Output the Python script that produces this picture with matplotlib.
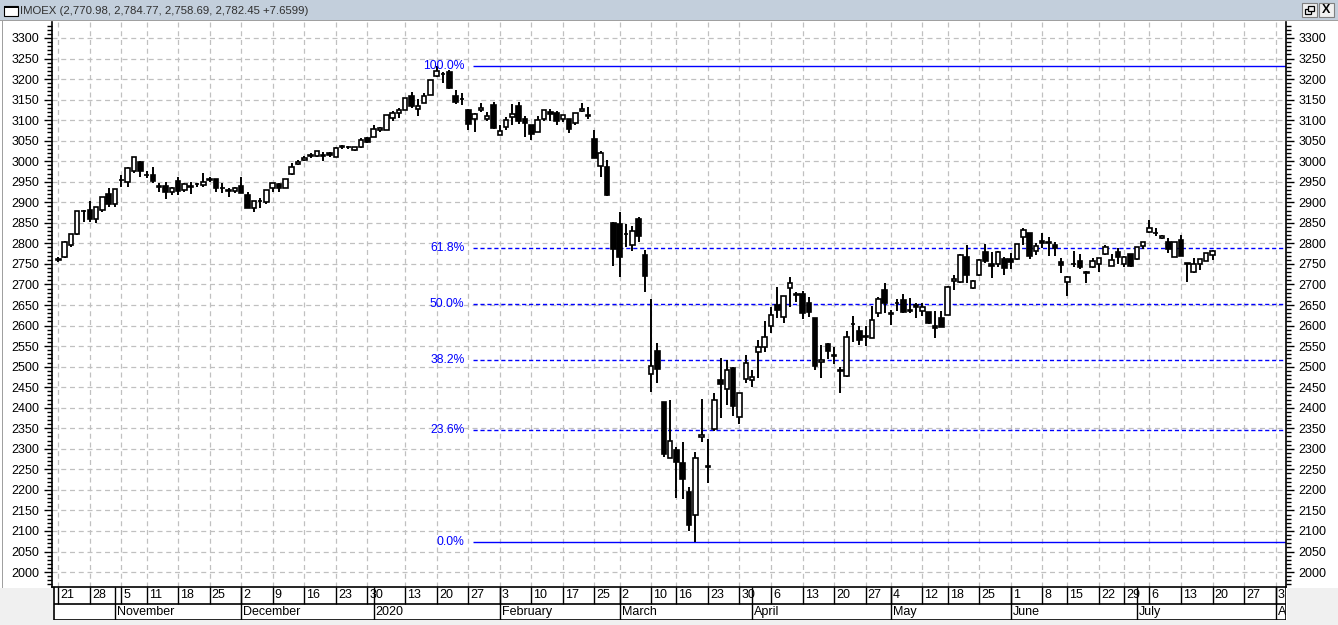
import matplotlib
matplotlib.use('Agg')
import matplotlib.pyplot as plt
from matplotlib.patches import Rectangle
from matplotlib.ticker import MultipleLocator
import pandas as pd

# MOEX trading calendar, exchange holidays removed
holidays = ['2019-11-04', '2019-12-31', '2020-01-01', '2020-01-02', '2020-01-07',
            '2020-02-24', '2020-03-09', '2020-05-01', '2020-05-11', '2020-06-12',
            '2020-06-24', '2020-07-01']
days = pd.bdate_range('2019-10-21', '2020-08-07')
days = days[~days.isin(pd.to_datetime(holidays))]

# daily candles, Oct 21 2019 .. Jul 20 2020
opens = [2760, 2766, 2796, 2822, 2879, 2881, 2859, 2881, 2920, 2897,
         2954, 2950, 2975, 2999, 2966, 2966, 2938, 2940, 2926, 2953,
         2930, 2938, 2944, 2942, 2955, 2956, 2934, 2929, 2927, 2940,
         2919, 2887, 2904, 2901, 2934, 2945, 2934, 2968, 2993, 3002,
         3013, 3013, 3013, 3019, 3011, 3035, 3034, 3027, 3034, 3056,
         3060, 3075, 3076, 3105, 3118, 3125, 3159, 3126, 3141, 3161,
         3208, 3212, 3218, 3159, 3151, 3125, 3103, 3125, 3104, 3138,
         3063, 3083, 3107, 3134, 3104, 3088, 3072, 3104, 3119, 3117,
         3103, 3104, 3092, 3122, 3111, 3053, 2989, 2985, 2849, 2846,
         2822, 2797, 2859, 2772, 2481, 2538, 2414, 2278, 2297, 2265,
         2195, 2140, 2328, 2256, 2349, 2467, 2445, 2496, 2378, 2469,
         2467, 2535, 2547, 2599, 2650, 2620, 2691, 2674, 2677, 2654,
         2618, 2512, 2555, 2528, 2490, 2476, 2603, 2587, 2573, 2569,
         2630, 2686, 2630, 2655, 2662, 2637, 2650, 2636, 2632, 2599,
         2618, 2626, 2708, 2707, 2768, 2692, 2723, 2778, 2750, 2750,
         2761, 2761, 2761, 2815, 2825, 2782, 2807, 2804, 2796, 2754,
         2705, 2749, 2758, 2731, 2743, 2749, 2774, 2746, 2780, 2749,
         2774, 2761, 2794, 2827, 2826, 2812, 2804, 2768, 2808, 2752,
         2731, 2750, 2758, 2770.98]
highs = [2768, 2805, 2823, 2880, 2882, 2902, 2888, 2913, 2936, 2933,
         2966, 2985, 3010, 3001, 2975, 2985, 2946, 2950, 2937, 2961,
         2946, 2950, 2948, 2972, 2962, 2957, 2946, 2934, 2937, 2962,
         2926, 2904, 2910, 2931, 2947, 2946, 2957, 2996, 3003, 3013,
         3021, 3026, 3023, 3023, 3034, 3040, 3038, 3035, 3056, 3058,
         3088, 3084, 3112, 3122, 3129, 3154, 3169, 3151, 3165, 3198,
         3232, 3216, 3222, 3173, 3167, 3126, 3117, 3141, 3121, 3145,
         3088, 3107, 3139, 3145, 3109, 3089, 3109, 3125, 3126, 3123,
         3112, 3104, 3117, 3141, 3131, 3076, 3026, 3003, 2852, 2876,
         2847, 2842, 2865, 2784, 2665, 2557, 2415, 2420, 2304, 2317,
         2207, 2291, 2421, 2324, 2437, 2521, 2515, 2500, 2436, 2528,
         2493, 2565, 2612, 2644, 2693, 2673, 2717, 2682, 2685, 2669,
         2619, 2553, 2558, 2547, 2500, 2587, 2623, 2599, 2599, 2648,
         2670, 2703, 2639, 2664, 2677, 2666, 2654, 2654, 2633, 2636,
         2636, 2696, 2723, 2774, 2796, 2710, 2761, 2799, 2780, 2782,
         2766, 2776, 2799, 2837, 2826, 2802, 2826, 2815, 2804, 2764,
         2720, 2781, 2773, 2733, 2764, 2765, 2796, 2774, 2788, 2769,
         2775, 2791, 2804, 2857, 2837, 2820, 2812, 2803, 2820, 2753,
         2764, 2762, 2777, 2784.77]
lows = [2755, 2765, 2792, 2821, 2853, 2853, 2849, 2877, 2888, 2889,
        2938, 2938, 2971, 2962, 2958, 2948, 2926, 2907, 2918, 2918,
        2926, 2920, 2938, 2938, 2950, 2926, 2922, 2914, 2922, 2922,
        2885, 2877, 2885, 2897, 2926, 2926, 2934, 2966, 2991, 3000,
        3009, 3010, 3001, 3011, 3010, 3030, 3030, 3026, 3033, 3045,
        3058, 3072, 3076, 3099, 3105, 3124, 3129, 3110, 3141, 3161,
        3206, 3190, 3177, 3139, 3137, 3076, 3072, 3121, 3099, 3079,
        3063, 3076, 3088, 3091, 3060, 3052, 3072, 3099, 3099, 3087,
        3096, 3068, 3088, 3121, 3102, 3007, 2961, 2915, 2746, 2717,
        2792, 2782, 2804, 2682, 2439, 2461, 2281, 2278, 2181, 2177,
        2101, 2073, 2317, 2216, 2343, 2376, 2407, 2381, 2360, 2461,
        2451, 2473, 2536, 2581, 2618, 2607, 2646, 2658, 2615, 2622,
        2492, 2472, 2518, 2506, 2435, 2474, 2561, 2553, 2550, 2569,
        2620, 2631, 2601, 2636, 2630, 2631, 2618, 2623, 2605, 2569,
        2596, 2625, 2687, 2704, 2704, 2690, 2721, 2752, 2715, 2742,
        2723, 2737, 2760, 2796, 2761, 2772, 2788, 2769, 2769, 2729,
        2672, 2743, 2737, 2704, 2741, 2730, 2772, 2745, 2751, 2742,
        2742, 2760, 2786, 2826, 2818, 2810, 2777, 2767, 2769, 2707,
        2727, 2735, 2757, 2758.69]
closes = [2762, 2803, 2822, 2879, 2878, 2859, 2888, 2912, 2897, 2932,
          2955, 2983, 3010, 2977, 2967, 2953, 2939, 2926, 2936, 2928,
          2945, 2939, 2945, 2949, 2956, 2934, 2935, 2928, 2936, 2923,
          2887, 2903, 2903, 2930, 2946, 2936, 2956, 2985, 2999, 3009,
          3016, 3026, 3014, 3015, 3033, 3036, 3035, 3034, 3052, 3048,
          3078, 3080, 3112, 3118, 3125, 3153, 3134, 3134, 3159, 3198,
          3220, 3213, 3178, 3145, 3152, 3091, 3115, 3129, 3110, 3080,
          3074, 3100, 3115, 3099, 3092, 3066, 3100, 3125, 3114, 3099,
          3112, 3078, 3117, 3127, 3112, 3007, 3019, 2919, 2787, 2768,
          2823, 2829, 2819, 2721, 2502, 2495, 2288, 2319, 2269, 2227,
          2115, 2278, 2334, 2257, 2418, 2457, 2492, 2405, 2435, 2510,
          2474, 2547, 2573, 2626, 2639, 2672, 2703, 2678, 2631, 2634,
          2502, 2515, 2539, 2525, 2491, 2573, 2604, 2565, 2574, 2614,
          2664, 2654, 2627, 2656, 2634, 2636, 2644, 2644, 2607, 2593,
          2597, 2695, 2713, 2772, 2723, 2709, 2760, 2758, 2745, 2780,
          2739, 2754, 2798, 2833, 2770, 2794, 2800, 2800, 2789, 2747,
          2719, 2750, 2743, 2727, 2758, 2764, 2792, 2760, 2766, 2768,
          2746, 2790, 2803, 2837, 2825, 2818, 2786, 2803, 2770, 2751,
          2750, 2761, 2776, 2782.45]

title = 'IMOEX (2,770.98, 2,784.77, 2,758.69, 2,782.45 +7.6599)'

# fibonacci retracement between the January high and the March low
fib_high = 3231.8
fib_low = 2073.1
fib_ratios = [1.0, 0.618, 0.5, 0.382, 0.236, 0.0]
fib_labels = ['100.0%', '61.8%', '50.0%', '38.2%', '23.6%', '0.0%']
fib_start = 65.7

W, H = 1338, 625
plt.rcParams['font.family'] = ['Liberation Sans', 'DejaVu Sans']
fig = plt.figure(figsize=(W / 100, H / 100), dpi=100)
fig.patch.set_facecolor('white')


def box(x0, y0, x1, y1):
    # pixel box -> figure fraction rect
    return [x0 / W, 1 - y1 / H, (x1 - x0) / W, (y1 - y0) / H]


def frect(x0, y0, w, h, **kw):
    # rectangle given in pixels from the top-left corner
    fig.patches.append(Rectangle((x0 / W, 1 - (y0 + h) / H), w / W, h / H,
                                 transform=fig.transFigure, **kw))


# window frame / title bar
frect(0, 0, W, 20, facecolor='#c3cfdc', edgecolor='none')
frect(0, 20, W, 1, facecolor='#a0a0a0', edgecolor='none')
frect(2, 21, 1.2, 567, facecolor='#a0a0a0', edgecolor='none')
frect(0, 588, 53, 37, facecolor='#f0f0f0', edgecolor='none')
frect(0, 620, W, 5, facecolor='#f0f0f0', edgecolor='none')
frect(1287, 588, 51, 37, facecolor='#f0f0f0', edgecolor='none')
# little window icon
frect(4, 6, 14, 10, facecolor='white', edgecolor='black', lw=0.8)
frect(4, 6, 14, 2, facecolor='black', edgecolor='none')
fig.text(20 / W, 1 - 10.5 / H, title, fontsize=8.2, color='#303030', va='center', ha='left')
# restore / close buttons
for bx in (1302, 1319):
    frect(bx, 3, 15, 14, facecolor='#f0f0f0', edgecolor='#808080', lw=0.8)
frect(1305, 9, 6, 5, facecolor='none', edgecolor='black', lw=0.9)
frect(1308, 6, 6, 5, facecolor='#f0f0f0', edgecolor='black', lw=0.9)
fig.text(1326.5 / W, 1 - 10 / H, 'X', fontsize=9, ha='center', va='center', weight='bold')

# main price panel
ax = fig.add_axes(box(52, 22, 1286, 587))
xmin, xmax = -1.0, 194.65
ax.set_xlim(xmin, xmax)
ax.set_ylim(1963.6, 3338.9)

# weekly marks on the first trading day of a week (a week-start only two days
# after the previous one, as after new year, gets no mark)
week_idx = []
for i in range(len(days)):
    if i == 0 or days[i].week != days[i - 1].week:
        if week_idx and i - week_idx[-1] < 3:
            continue
        week_idx.append(i)
month_idx = [i for i in range(1, len(days)) if days[i].month != days[i - 1].month]

ax.set_xticks(week_idx)
ax.set_xticklabels([])
ax.tick_params(axis='x', length=0)
ax.yaxis.set_major_locator(MultipleLocator(50))
ax.yaxis.set_minor_locator(MultipleLocator(10))
ax.tick_params(axis='y', which='both', left=True, right=True, labelleft=True,
               labelright=True, direction='out', labelsize=9, pad=3)
ax.tick_params(axis='y', which='major', length=6, width=1)
ax.tick_params(axis='y', which='minor', length=3.5, width=1)
ax.grid(True, which='major', color='#c0c0c0', linestyle=(0, (4, 3)), linewidth=0.9)
ax.set_axisbelow(True)
for s in ('left', 'right'):
    ax.spines[s].set_linewidth(1.2)
ax.spines['top'].set_visible(False)
ax.spines['bottom'].set_linewidth(1.2)

# candles
for i in range(len(closes)):
    o, h, l, c = opens[i], highs[i], lows[i], closes[i]
    ax.vlines(i, l, h, color='black', linewidth=1.4, zorder=3)
    lo, hi = min(o, c), max(o, c)
    face = 'white' if c >= o else 'black'
    ax.add_patch(Rectangle((i - 0.36, lo), 0.72, max(hi - lo, 0.5), facecolor=face,
                           edgecolor='black', linewidth=1.2, zorder=4))

# fibonacci levels
for r, lab in zip(fib_ratios, fib_labels):
    lvl = fib_low + r * (fib_high - fib_low)
    ls = '-' if r in (0.0, 1.0) else (0, (3, 2))
    ax.hlines(lvl, fib_start, xmax, color='#0000ff', linewidth=1.0, linestyle=ls, zorder=2)
    ax.annotate(lab, (fib_start, lvl), xytext=(-6, 0), textcoords='offset points',
                ha='right', va='center', color='#0000ff', fontsize=8.7)

# date scale rows
axd = fig.add_axes(box(52, 587, 1286, 620))
axd.set_xlim(xmin, xmax)
axd.set_ylim(0, 2)
axd.axis('off')
axd.add_patch(Rectangle((xmin + 0.3, 0), xmax - xmin - 0.3, 2, facecolor='white',
                        edgecolor='black', linewidth=1.2))
axd.hlines(1, xmin + 0.3, xmax, color='black', linewidth=1.2)
for i in week_idx:
    axd.vlines(i, 1, 2, color='black', linewidth=1.0)
    axd.annotate(str(days[i].day), (i, 1.5), xytext=(1.5, 0), textcoords='offset points',
                 ha='left', va='center', fontsize=9, annotation_clip=False)
for i in month_idx:
    axd.vlines(i, 0, 2, color='black', linewidth=1.0)
    name = str(days[i].year) if days[i].month == 1 else days[i].strftime('%B')
    t = axd.annotate(name, (i, 0.5), xytext=(1.5, 0), textcoords='offset points',
                     ha='left', va='center', fontsize=9)
    t.set_clip_box(axd.bbox)
    t.set_clip_on(True)

fig.savefig('out.png', dpi=100, facecolor='white')
